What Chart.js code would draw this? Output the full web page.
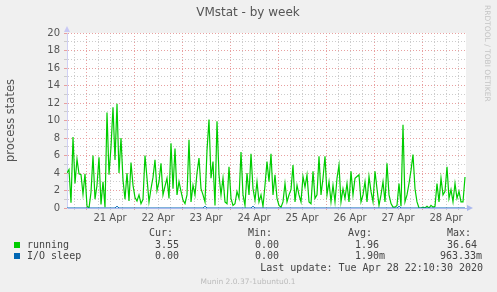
<!DOCTYPE html>
<html>
<head>
<meta charset="utf-8">
<script src="https://cdn.jsdelivr.net/npm/chart.js@4"></script>
<style>
  html, body { margin: 0; padding: 0; background: #f0f0f0; }
  canvas { display: block; }
</style>
</head>
<body>
<canvas id="myChart" width="497" height="292"></canvas>
<script>
// hours since 21 Apr 00:00, one sample per hour
const startHour = -9.5;
const stepHours = 1;
const endHour = 190;

const running = [
  4.0, 4.4, 0.6, 8.1, 2.8, 5.6, 3.9, 3.8, 1.6, 3.9,
  0.2, 0.0, 1.8, 6.0, 1.0, 2.6, 5.8, 0.4, 3.0, 0.1,
  10.9, 3.8, 7.0, 11.5, 5.5, 11.9, 4.0, 8.0, 3.2, 1.0,
  4.0, 0.8, 5.2, 2.6, 1.2, 0.8, 1.5, 0.5, 1.0, 6.0,
  3.4, 0.7, 2.2, 3.5, 5.5, 2.0, 3.0, 5.1, 1.5, 2.5,
  3.4, 1.1, 7.4, 2.2, 6.8, 1.5, 3.0, 1.9, 0.9, 0.5,
  1.5, 7.8, 0.7, 2.6, 1.5, 4.0, 5.7, 2.2, 1.5, 0.7,
  6.6, 10.1, 3.4, 5.3, 0.3, 9.9, 3.8, 1.5, 3.4, 0.7,
  0.5, 4.7, 1.1, 0.3, 0.5, 1.9, 1.1, 6.4, 1.5, 0.3,
  4.0, 1.5, 6.2, 2.2, 0.9, 3.0, 0.7, 1.5, 0.2, 2.6,
  5.3, 3.0, 6.2, 1.5, 3.8, 1.1, 0.3, 0.1, 0.7, 2.8,
  0.7, 1.5, 2.1, 4.9, 0.7, 2.6, 1.5, 0.7, 3.6, 2.4,
  3.8, 0.7, 0.5, 4.2, 1.1, 1.5, 5.9, 1.5, 3.4, 5.9,
  1.5, 3.0, 0.7, 2.6, 0.7, 3.4, 4.9, 0.7, 2.2, 1.1,
  2.8, 0.7, 4.2, 1.5, 3.4, 3.6, 3.8, 0.7, 1.5, 3.0,
  0.7, 3.6, 1.9, 0.7, 4.2, 2.2, 0.3, 1.5, 3.0, 0.7,
  5.1, 1.5, 0.5, 0.1, 0.1, 0.3, 2.8, 0.2, 9.5, 0.7,
  1.5, 2.8, 4.3, 6.1, 2.2, 0.7, 0.0, 0.0, 0.1, 0.0,
  0.2, 0.0, 0.3, 0.1, 0.2, 2.8, 0.7, 3.4, 1.5, 1.9,
  4.7, 1.1, 2.1, 0.7, 2.8, 1.1, 1.9, 0.7, 0.7, 3.55
];

const ioSleep = [
  0, 0, 0, 0, 0, 0, 0, 0, 0, 0,
  0, 0, 0, 0, 0, 0, 0, 0, 0, 0,
  0, 0, 0, 0, 0, 0.2, 0, 0, 0, 0,
  0, 0, 0, 0, 0, 0, 0, 0, 0, 0,
  0, 0, 0, 0, 0, 0, 0, 0, 0, 0,
  0, 0, 0, 0, 0, 0, 0, 0, 0, 0,
  0, 0, 0, 0, 0, 0, 0, 0, 0, 0.2,
  0, 0, 0, 0, 0, 0, 0, 0, 0, 0,
  0, 0, 0, 0, 0, 0, 0, 0, 0, 0,
  0, 0, 0, 0.2, 0, 0, 0, 0, 0, 0,
  0, 0, 0, 0, 0, 0, 0, 0, 0, 0,
  0, 0, 0, 0, 0, 0, 0, 0, 0, 0,
  0, 0, 0, 0, 0, 0, 0, 0, 0, 0,
  0, 0, 0, 0, 0, 0, 0, 0, 0, 0,
  0, 0, 0, 0, 0, 0, 0, 0, 0, 0,
  0, 0, 0, 0, 0, 0, 0, 0, 0, 0,
  0, 0, 0, 0, 0, 0, 0.2, 0, 0, 0,
  0, 0, 0, 0, 0, 0, 0, 0, 0, 0,
  0, 0, 0, 0, 0, 0, 0, 0, 0, 0,
  0, 0, 0, 0, 0, 0, 0, 0, 0, 0
];

const dayLabels = ["21 Apr", "22 Apr", "23 Apr", "24 Apr", "25 Apr", "26 Apr", "27 Apr", "28 Apr"];
const yTicks = [0, 2, 4, 6, 8, 10, 12, 14, 16, 18, 20];

const seriesNames = ["running", "I/O sleep"];
const seriesColors = ["#00cc00", "#0066b3"];
const curValues = ["3.55", "0.00"];
const minValues = ["0.00", "0.00"];
const avgValues = ["1.96", "1.90m"];
const maxValues = ["36.64", "963.33m"];
const lastUpdate = "Last update: Tue Apr 28 22:10:30 2020";

const toPoints = (arr) => arr.map((v, i) => ({ x: startHour + i * stepHours, y: v }));

const munin = {
  id: "munin",
  beforeDraw(chart) {
    const { ctx, chartArea: a } = chart;
    ctx.save();
    ctx.fillStyle = "#f0f0f0";
    ctx.fillRect(0, 0, chart.width, chart.height);
    ctx.fillStyle = "#ffffff";
    ctx.fillRect(a.left, a.top, a.right - a.left, a.bottom - a.top);
    ctx.restore();
  },
  afterDraw(chart) {
    const { ctx, chartArea: a } = chart;
    ctx.save();
    // title
    ctx.fillStyle = "#555";
    ctx.font = '12px "DejaVu Sans"';
    ctx.textAlign = "center";
    ctx.textBaseline = "middle";
    ctx.fillText("VMstat - by week", 248, 13);

    // axis arrows
    ctx.fillStyle = "#c8c8f4";
    ctx.beginPath();
    ctx.moveTo(a.left - 3, a.top - 1);
    ctx.lineTo(a.left + 3, a.top - 1);
    ctx.lineTo(a.left, a.top - 7);
    ctx.fill();
    ctx.fillStyle = "#aab8ee";
    ctx.beginPath();
    ctx.moveTo(a.right + 1, a.bottom - 3);
    ctx.lineTo(a.right + 1, a.bottom + 3);
    ctx.lineTo(a.right + 7, a.bottom);
    ctx.fill();

    // rrdtool credit
    ctx.save();
    ctx.translate(487, 5);
    ctx.rotate(Math.PI / 2);
    ctx.fillStyle = "#c4c4c4";
    ctx.font = '7.5px "DejaVu Sans"';
    ctx.textAlign = "left";
    ctx.textBaseline = "middle";
    ctx.fillText("RRDTOOL / TOBI OETIKER", 0, 0);
    ctx.restore();

    // legend
    ctx.font = '10px "DejaVu Sans Mono"';
    ctx.textAlign = "left";
    ctx.textBaseline = "middle";
    ctx.fillStyle = "#444";
    ctx.fillText("Cur:", 149, 233);
    ctx.fillText("Min:", 248, 233);
    ctx.fillText("Avg:", 348, 233);
    ctx.fillText("Max:", 447, 233);
    const rows = [245, 256];
    const maxX = [447, 440];
    seriesNames.forEach((name, i) => {
      const y = rows[i];
      ctx.fillStyle = seriesColors[i];
      ctx.fillRect(14, y - 3, 6, 6);
      ctx.fillStyle = "#444";
      ctx.fillText(name, 27, y);
      ctx.fillText(curValues[i], 155, y);
      ctx.fillText(minValues[i], 255, y);
      ctx.fillText(avgValues[i], 355, y);
      ctx.fillText(maxValues[i], maxX[i], y);
    });
    ctx.textAlign = "right";
    ctx.fillText(lastUpdate, 483, 268);

    ctx.font = '7.5px "DejaVu Sans"';
    ctx.fillStyle = "#bbb";
    ctx.textAlign = "center";
    ctx.fillText("Munin 2.0.37-1ubuntu0.1", 248, 282);
    ctx.restore();
  }
};

const ctx = document.getElementById("myChart").getContext("2d");
new Chart(ctx, {
  type: "line",
  data: {
    datasets: [{
      label: seriesNames[0],
      data: toPoints(running),
      borderColor: seriesColors[0],
      borderWidth: 1.2,
      pointRadius: 0,
      tension: 0,
      order: 2,
    }, {
      label: seriesNames[1],
      data: toPoints(ioSleep),
      borderColor: seriesColors[1],
      borderWidth: 1,
      pointRadius: 0,
      tension: 0,
      order: 1,
    }]
  },
  options: {
    responsive: false,
    animation: false,
    layout: { padding: { top: 33, right: 31, left: 0, bottom: 0 } },
    plugins: {
      legend: { display: false },
      tooltip: { enabled: false },
      title: { display: false },
    },
    scales: {
      x: {
        type: "linear",
        min: startHour,
        max: endHour,
        afterFit: (s) => { s.height = 84; },
        afterBuildTicks: (s) => {
          const t = [];
          for (let h = -6; h < endHour; h += 6) t.push({ value: h });
          s.ticks = t;
        },
        ticks: {
          autoSkip: false,
          maxRotation: 0,
          padding: 2,
          color: "#555",
          font: { family: "DejaVu Sans", size: 10 },
          callback: (v) => {
            const d = (v - 12) / 24;
            return Number.isInteger(d) && dayLabels[d] ? dayLabels[d] : "";
          },
        },
        grid: {
          color: (c) => (c.tick && c.tick.value % 24 === 0) ? "#e8a0a0" : "#cccccc",
          tickColor: (c) => (c.tick && c.tick.value % 24 === 0) ? "#e8a0a0" : "#cccccc",
          tickLength: 2,
        },
        border: { color: "#aab8ee", width: 1, dash: [1, 2] },
      },
      y: {
        min: 0,
        max: 20,
        afterFit: (s) => { s.width = 67; },
        afterBuildTicks: (s) => {
          const t = [];
          for (let v = 0; v <= 20; v += 1) t.push({ value: v });
          s.ticks = t;
        },
        ticks: {
          autoSkip: false,
          padding: 4,
          color: "#555",
          font: { family: "DejaVu Sans", size: 10 },
          callback: (v) => yTicks.includes(v) ? String(v) : "",
        },
        grid: {
          color: (c) => (c.tick && c.tick.value === 0) ? "rgba(0,0,0,0)" : (c.tick && c.tick.value % 2 === 0 ? "#e8a0a0" : "#cccccc"),
          tickColor: (c) => (c.tick && c.tick.value % 2 === 0) ? "#e8a0a0" : "#cccccc",
          tickLength: 3,
        },
        border: { color: "#d0d0f4", width: 1, dash: [1, 2] },
        title: {
          display: true,
          text: "process states",
          color: "#555",
          font: { family: "DejaVu Sans", size: 11.5 },
          padding: { top: 4, bottom: 0 },
        },
      },
    },
  },
  plugins: [munin],
});
</script>
</body>
</html>
